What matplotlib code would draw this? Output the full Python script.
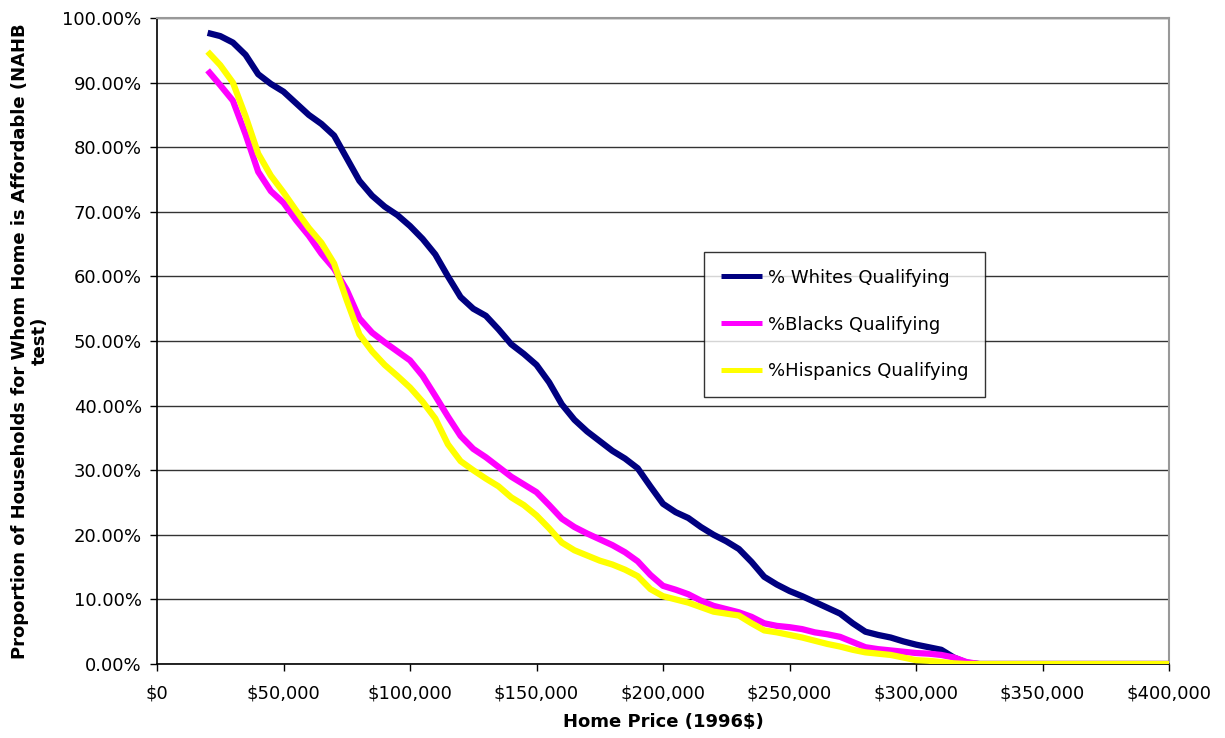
import numpy as np
import matplotlib
matplotlib.use("Agg")
from matplotlib import pyplot as plt
from matplotlib.ticker import FuncFormatter, MultipleLocator

# home price grid (1996 dollars)
prices = np.arange(20000, 400001, 5000)

# share of households (%) for whom a home at that price is affordable
whites = [97.7, 97.2, 96.2, 94.3, 91.3, 89.8, 88.6, 86.8, 85.0, 83.6,
          81.8, 78.3, 74.8, 72.5, 70.8, 69.5, 67.8, 65.8, 63.4, 60.0,
          56.8, 55.0, 53.9, 51.8, 49.5, 48.0, 46.3, 43.6, 40.2, 37.8,
          36.0, 34.5, 33.0, 31.8, 30.3, 27.5, 24.8, 23.5, 22.6, 21.2,
          20.0, 19.0, 17.8, 15.8, 13.5, 12.3, 11.3, 10.5, 9.6, 8.7,
          7.8, 6.3, 5.0, 4.5, 4.1, 3.5, 3.0, 2.6, 2.2, 1.0,
          0.2, 0.0, 0.0, 0.0, 0.0, 0.0, 0.0, 0.0, 0.0, 0.0,
          0.0, 0.0, 0.0, 0.0, 0.0, 0.0, 0.0]
blacks = [91.9, 89.6, 87.2, 82.0, 76.2, 73.2, 71.4, 68.7, 66.3, 63.5,
          61.2, 57.9, 53.5, 51.3, 49.8, 48.4, 47.0, 44.6, 41.5, 38.3,
          35.3, 33.3, 32.0, 30.5, 29.0, 27.8, 26.6, 24.6, 22.5, 21.2,
          20.2, 19.3, 18.4, 17.3, 15.9, 13.8, 12.1, 11.5, 10.8, 9.8,
          9.0, 8.5, 8.0, 7.3, 6.3, 5.9, 5.7, 5.4, 4.9, 4.6,
          4.2, 3.4, 2.6, 2.3, 2.1, 1.9, 1.7, 1.6, 1.4, 1.0,
          0.3, 0.0, 0.0, 0.0, 0.0, 0.0, 0.0, 0.0, 0.0, 0.0,
          0.0, 0.0, 0.0, 0.0, 0.0, 0.0, 0.0]
hispanics = [94.8, 92.7, 90.0, 84.8, 79.0, 75.6, 73.0, 70.2, 67.5, 65.2,
             62.0, 56.3, 51.0, 48.4, 46.3, 44.6, 42.8, 40.6, 38.0, 34.0,
             31.4, 30.0, 28.7, 27.5, 25.8, 24.6, 23.0, 21.0, 18.8, 17.6,
             16.8, 16.0, 15.4, 14.6, 13.6, 11.6, 10.5, 10.0, 9.5, 8.8,
             8.1, 7.8, 7.5, 6.3, 5.2, 4.9, 4.5, 4.1, 3.6, 3.1,
             2.7, 2.2, 1.8, 1.6, 1.4, 1.0, 0.6, 0.5, 0.3, 0.1,
             0.0, 0.0, 0.0, 0.0, 0.0, 0.0, 0.0, 0.0, 0.0, 0.0,
             0.0, 0.0, 0.0, 0.0, 0.0, 0.0, 0.0]

series_labels = ["% Whites Qualifying", "%Blacks Qualifying", "%Hispanics Qualifying"]
series_colors = ["#000080", "#FF00FF", "#FFFF00"]

plt.rcParams["font.family"] = ["DejaVu Sans"]

fig = plt.figure(figsize=(12.25, 7.38), dpi=100)
ax = fig.add_axes([157 / 1225, 1 - 664 / 738, 1012 / 1225, 646 / 738])

for vals, lab, col in zip([whites, blacks, hispanics], series_labels, series_colors):
    ax.plot(prices, vals, color=col, lw=4.5, label=lab,
            solid_joinstyle="round", solid_capstyle="butt", zorder=3)

ax.set_xlim(0, 400000)
ax.set_ylim(0, 100)
ax.xaxis.set_major_locator(MultipleLocator(50000))
ax.yaxis.set_major_locator(MultipleLocator(10))
ax.xaxis.set_major_formatter(FuncFormatter(lambda v, p: "${:,.0f}".format(v)))
ax.yaxis.set_major_formatter(FuncFormatter(lambda v, p: "{:.2f}%".format(v)))
ax.tick_params(axis="both", direction="out", length=5, width=1, color="black",
               labelsize=13)
ax.tick_params(axis="x", pad=10)
ax.tick_params(axis="y", pad=6)
ax.grid(axis="y", color="#333333", lw=1)
ax.set_axisbelow(True)

for side in ["left", "bottom"]:
    ax.spines[side].set_color("black")
    ax.spines[side].set_linewidth(1.2)
for side in ["top", "right"]:
    ax.spines[side].set_color("#999999")
    ax.spines[side].set_linewidth(1.5)

ax.set_xlabel("Home Price (1996$)", fontsize=13, fontweight="bold", labelpad=7)
ax.set_ylabel("Proportion of Households for Whom Home is Affordable (NAHB\ntest)",
              fontsize=13, fontweight="bold", labelpad=10, linespacing=1.1)

leg = ax.legend(loc="upper left", bbox_to_anchor=((704 - 157) / 1012, (664 - 252) / 646),
                fontsize=13, frameon=True, fancybox=False, borderpad=0.92,
                labelspacing=1.6, handlelength=2.3, handletextpad=0.3,
                borderaxespad=0)
leg.get_frame().set_edgecolor("black")
leg.get_frame().set_linewidth(1.0)
for h in leg.get_lines():
    h.set_linewidth(3.6)

fig.savefig("out.png", dpi=100, facecolor="white")
